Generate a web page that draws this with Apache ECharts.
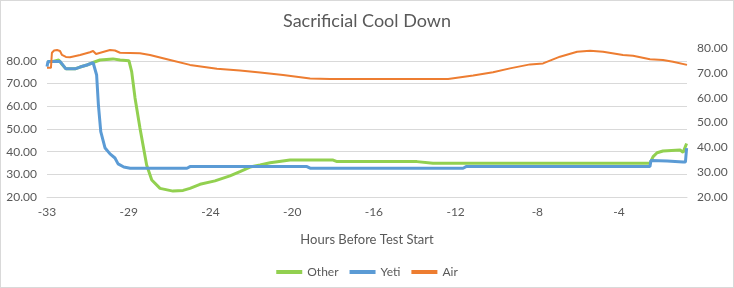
<!DOCTYPE html>
<html>
<head>
<meta charset="utf-8">
<script src="https://cdn.jsdelivr.net/npm/echarts@6/dist/echarts.min.js"></script>
<style>
  html, body { margin: 0; padding: 0; background: #fff; }
  #chart { width: 734px; height: 288px; box-sizing: border-box; border: 1px solid #d9d9d9; }
</style>
</head>
<body>
<div id="chart"></div>
<script>
// hours before test start
const tickHours = [-32.70, -28.55, -24.40, -20.25, -16.10, -11.95, -7.80, -3.65];
const tickLabels = ['-33', '-29', '-24', '-20', '-16', '-12', '-8', '-4'];

const otherHours = [-32.70, -32.45, -32.10, -31.94, -31.74, -31.28, -31.02, -30.67, -30.36, -30.26, -30.01, -29.35, -28.99, -28.54, -28.48, -28.40, -28.23, -27.98, -27.64, -27.38, -26.96, -26.30, -25.79, -25.44, -24.93, -24.17, -23.41, -22.90, -22.39, -21.88, -21.37, -20.36, -18.17, -17.97, -13.91, -13.10, -2.08, -1.92, -1.72, -1.42, -0.55, -0.40, -0.22];
const otherTemps = [79.5, 79.7, 80.4, 78.5, 76.5, 76.5, 77.3, 78.2, 79.3, 79.7, 80.4, 80.9, 80.4, 80.1, 79.5, 75.3, 63.7, 50.4, 34.1, 27.5, 23.8, 22.6, 22.9, 23.8, 25.6, 27.1, 29.3, 31.2, 33.2, 34.1, 35.1, 36.3, 36.3, 35.6, 35.6, 34.9, 34.9, 37.8, 39.5, 40.3, 40.7, 39.7, 43.6];

const yetiHours = [-32.70, -32.65, -32.45, -32.04, -31.74, -31.28, -31.02, -30.67, -30.36, -30.26, -30.18, -30.09, -29.97, -29.75, -29.50, -29.25, -29.09, -28.80, -28.48, -25.59, -25.44, -19.50, -19.34, -11.57, -11.42, -2.08, -2.03, -1.21, -0.40, -0.28, -0.22];
const yetiTemps = [77.5, 79.7, 79.7, 79.8, 76.5, 76.5, 77.3, 78.2, 79.3, 79.7, 73.8, 60.6, 48.8, 41.6, 39.0, 37.2, 34.6, 33.2, 32.7, 32.7, 33.4, 33.4, 32.7, 32.7, 33.4, 33.5, 36.1, 35.9, 35.4, 35.4, 41.6];

const airHours = [-32.70, -32.50, -32.45, -32.34, -32.19, -32.04, -31.94, -31.74, -31.53, -31.02, -30.52, -30.36, -30.21, -29.86, -29.50, -29.25, -28.99, -27.98, -27.47, -26.45, -25.44, -24.07, -22.90, -21.88, -20.71, -19.34, -18.33, -12.33, -11.06, -10.05, -9.19, -8.17, -7.51, -6.65, -5.78, -5.12, -4.46, -3.45, -2.94, -2.08, -1.42, -0.91, -0.20];
const airTemps = [72.0, 72.0, 78.1, 79.0, 79.2, 78.8, 77.2, 76.4, 76.3, 77.2, 78.3, 78.8, 77.6, 78.4, 79.2, 79.0, 78.1, 77.9, 77.2, 75.2, 73.2, 71.6, 70.9, 70.1, 69.1, 67.7, 67.5, 67.5, 68.9, 70.2, 71.8, 73.4, 73.8, 76.5, 78.5, 78.9, 78.5, 77.2, 76.9, 75.5, 75.2, 74.5, 73.2];

const pairs = (xs, ys) => xs.map((x, i) => [x, ys[i]]);

const font = 'Lato, "Open Sans", sans-serif';
const grey = '#595959';

const chart = echarts.init(document.getElementById('chart'));
chart.setOption({
  animation: false,
  textStyle: { fontFamily: font },
  title: {
    text: 'Sacrificial Cool Down',
    left: 'center',
    top: 6,
    textStyle: { fontSize: 18, fontWeight: 'normal', color: grey, fontFamily: font }
  },
  legend: {
    left: 'center',
    top: 260,
    icon: 'rect',
    itemWidth: 26,
    itemHeight: 4,
    itemGap: 11,
    textStyle: { fontSize: 12, color: grey, fontFamily: font },
    data: ['Other', 'Yeti', 'Air']
  },
  grid: { left: 46, right: 46, top: 47, bottom: 90 },
  xAxis: {
    type: 'value',
    min: -32.7,
    max: -0.2,
    name: 'Hours Before Test Start',
    nameLocation: 'middle',
    nameGap: 36,
    nameTextStyle: { fontSize: 13, color: grey, fontFamily: font },
    axisLine: { onZero: false, lineStyle: { color: '#d9d9d9' } },
    axisTick: { show: false },
    splitLine: { show: false },
    axisLabel: {
      customValues: tickHours,
      formatter: (v) => tickLabels[tickHours.findIndex(t => Math.abs(t - v) < 0.01)] ?? '',
      fontSize: 12,
      color: grey,
      margin: 9
    }
  },
  yAxis: [
    {
      type: 'value',
      min: 20,
      max: 85.7,
      interval: 10,
      axisLine: { show: false },
      axisTick: { show: false },
      splitLine: { showMaxLine: false, lineStyle: { color: '#d9d9d9' } },
      axisLabel: {
        showMaxLabel: false,
        formatter: (v) => v.toFixed(2),
        fontSize: 12,
        color: grey,
        margin: 10
      }
    },
    {
      type: 'value',
      min: 20,
      max: 80,
      interval: 10,
      axisLine: { show: false },
      axisTick: { show: false },
      splitLine: { show: false },
      axisLabel: {
        formatter: (v) => v.toFixed(2),
        fontSize: 12,
        color: grey,
        margin: 10
      }
    }
  ],
  series: [
    {
      name: 'Other',
      type: 'line',
      yAxisIndex: 0,
      showSymbol: false,
      color: '#92D050',
      lineStyle: { width: 3, color: '#92D050' },
      data: pairs(otherHours, otherTemps)
    },
    {
      name: 'Yeti',
      type: 'line',
      yAxisIndex: 0,
      showSymbol: false,
      color: '#5B9BD5',
      lineStyle: { width: 3, color: '#5B9BD5' },
      data: pairs(yetiHours, yetiTemps)
    },
    {
      name: 'Air',
      type: 'line',
      yAxisIndex: 1,
      showSymbol: false,
      color: '#ED7D31',
      lineStyle: { width: 2, color: '#ED7D31' },
      data: pairs(airHours, airTemps)
    }
  ]
});
</script>
</body>
</html>
